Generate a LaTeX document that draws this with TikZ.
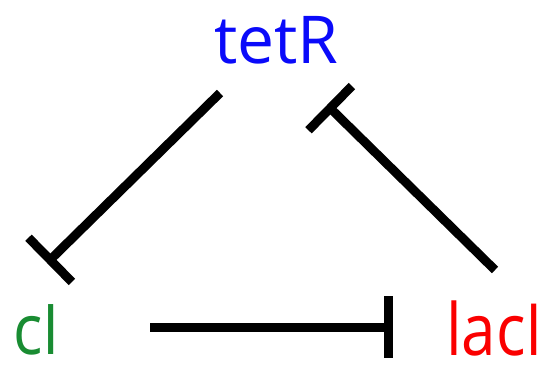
\documentclass[tikz,border=0pt]{standalone}
\usepackage{fontspec}
\setmainfont{Open Sans}
\usetikzlibrary{arrows.meta}
\begin{document}
\begin{tikzpicture}[x=1pt,y=-1pt,
  gene/.style={anchor=base west,inner sep=0pt,text depth=0pt},
  repress/.style={line width=9pt,-{Bar[width=62pt,line cap=butt]}}]
\useasboundingbox (0,0) rectangle (555,367);
% gene labels
\node[gene,font=\fontsize{66}{66}\selectfont,
      text={rgb,255:red,10;green,10;blue,250}] (tetR) at (214,63) {tetR};
\node[gene,font=\fontsize{70}{70}\selectfont,xscale=0.88,
      text={rgb,255:red,25;green,140;blue,50}] (cI) at (13,354) {cI};
\node[gene,font=\fontsize{72}{72}\selectfont,xscale=0.86,
      text={rgb,255:red,250;green,0;blue,0}] (lacI) at (446,355) {lacI};
% connector end points
\coordinate (t1) at (220,93);
\coordinate (c1) at (47,263);
\coordinate (l1) at (495,270);
\coordinate (t2) at (327,105);
\coordinate (c2) at (150,327);
\coordinate (l2) at (393,327);
% mutual repression
\draw[repress] (t1) -- (c1);
\draw[repress] (l1) -- (t2);
\draw[repress] (c2) -- (l2);
\end{tikzpicture}
\end{document}
